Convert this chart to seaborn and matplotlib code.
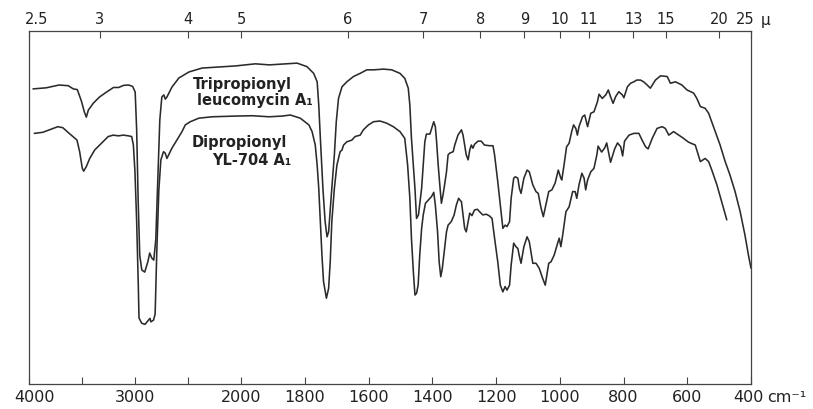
import numpy as np
import pandas as pd
import matplotlib
matplotlib.use("Agg")
import matplotlib.pyplot as plt
import matplotlib.transforms as mtransforms
import seaborn as sns

# IR spectra: wavenumber (cm-1) and transmittance (%)
upper_name = "Tripropionyl leucomycin A1"
lower_name = "Dipropionyl YL-704 A1"

upper_wn = [3962, 3839, 3716, 3630, 3583, 3545, 3507, 3479, 3460, 3441,
            3393, 3336, 3270, 3204, 3156, 3109, 3062, 3024, 3000, 2986,
            2972, 2957, 2938, 2910, 2881, 2863, 2844, 2825, 2806, 2787,
            2768, 2749, 2730, 2716, 2701, 2654, 2588, 2493, 2370, 2208,
            2057, 1956, 1912, 1862, 1825, 1794, 1773, 1762, 1757, 1752,
            1744, 1737, 1731, 1726, 1716, 1708, 1702, 1695, 1684, 1669,
            1648, 1627, 1606, 1585, 1554, 1528, 1502, 1487, 1476, 1471,
            1466, 1460, 1455, 1450, 1444, 1434, 1424, 1419, 1408, 1401,
            1396, 1391, 1387, 1382, 1377, 1372, 1367, 1362, 1356, 1351,
            1346, 1335, 1330, 1320, 1309, 1304, 1299, 1294, 1288, 1283,
            1278, 1273, 1268, 1257, 1247, 1237, 1221, 1210, 1205, 1195,
            1187, 1179, 1172, 1166, 1158, 1153, 1145, 1140, 1132, 1127,
            1122, 1113, 1103, 1096, 1085, 1075, 1068, 1059, 1052, 1044,
            1035, 1025, 1015, 1005, 997, 994, 987, 979, 971, 963,
            957, 950, 945, 940, 929, 922, 913, 908, 903, 893,
            882, 877, 867, 856, 848, 841, 833, 825, 815, 804,
            799, 788, 778, 768, 759, 747, 737, 726, 716, 700,
            684, 663, 653, 637, 617, 601, 580, 570, 559, 544,
            533, 512, 497, 481, 466, 450, 434, 419, 408, 400]
upper_t = [83.6, 83.9, 84.7, 84.5, 83.6, 83.4, 80.2, 77.1, 75.6, 77.6,
           79.6, 81.3, 82.7, 84.0, 84.0, 84.6, 84.7, 84.3, 82.7, 72.0,
           52.1, 36.5, 32.3, 31.7, 34.6, 37.1, 35.7, 35.1, 40.8, 57.8,
           74.8, 81.3, 81.9, 80.7, 81.3, 84.1, 86.7, 88.4, 89.5, 89.8,
           90.1, 90.7, 90.4, 90.7, 90.9, 89.9, 88.0, 85.6, 79.0, 69.7,
           55.5, 46.0, 41.7, 43.1, 55.5, 64.9, 74.3, 80.9, 84.2, 85.6,
           87.1, 88.0, 89.0, 89.0, 89.2, 89.0, 88.0, 86.6, 83.8, 79.0,
           69.6, 62.0, 55.4, 46.9, 47.9, 55.5, 68.6, 70.8, 70.8, 72.9,
           74.3, 72.9, 68.6, 62.0, 56.4, 51.2, 53.5, 56.4, 60.1, 64.9,
           65.4, 65.8, 67.7, 70.5, 72.0, 70.5, 67.7, 64.9, 63.5, 66.3,
           67.7, 66.8, 67.9, 68.8, 68.8, 67.7, 67.5, 67.5, 64.9, 57.3,
           50.7, 44.1, 45.0, 44.6, 46.0, 52.6, 58.3, 58.7, 58.3, 55.4,
           54.0, 58.3, 60.6, 60.1, 56.4, 54.5, 54.0, 49.8, 47.4, 50.7,
           54.5, 55.0, 56.9, 60.6, 58.3, 57.8, 62.0, 67.2, 68.2, 71.5,
           73.4, 72.4, 70.5, 72.9, 75.7, 76.2, 72.9, 74.8, 76.7, 77.1,
           80.0, 82.1, 80.9, 81.9, 83.3, 81.4, 79.5, 81.4, 82.8, 81.9,
           81.1, 84.2, 85.2, 85.6, 86.1, 86.1, 85.6, 84.7, 83.8, 86.1,
           87.3, 87.1, 85.2, 85.6, 84.7, 83.3, 82.4, 80.9, 78.6, 78.1,
           76.7, 71.5, 67.7, 63.0, 59.2, 54.5, 48.8, 42.2, 36.5, 32.8]

lower_wn = [3950, 3870, 3808, 3728, 3681, 3633, 3586, 3548, 3523, 3498,
            3485, 3460, 3428, 3381, 3318, 3254, 3207, 3159, 3112, 3064,
            3033, 3017, 3002, 2986, 2970, 2964, 2938, 2907, 2875, 2860,
            2853, 2827, 2812, 2796, 2777, 2758, 2733, 2717, 2701, 2685,
            2654, 2607, 2559, 2528, 2481, 2401, 2275, 2054, 1966, 1913,
            1872, 1846, 1815, 1788, 1778, 1768, 1762, 1757, 1752, 1747,
            1742, 1733, 1726, 1721, 1716, 1708, 1700, 1690, 1684, 1679,
            1669, 1653, 1643, 1627, 1617, 1601, 1585, 1565, 1544, 1523,
            1502, 1487, 1478, 1471, 1466, 1460, 1455, 1450, 1445, 1440,
            1434, 1429, 1422, 1413, 1403, 1396, 1391, 1384, 1379, 1374,
            1369, 1363, 1356, 1351, 1341, 1332, 1325, 1318, 1309, 1304,
            1299, 1294, 1288, 1283, 1276, 1268, 1259, 1252, 1242, 1231,
            1221, 1213, 1205, 1195, 1187, 1179, 1172, 1166, 1158, 1153,
            1145, 1138, 1132, 1127, 1122, 1113, 1103, 1096, 1085, 1075,
            1065, 1054, 1046, 1035, 1028, 1018, 1007, 1002, 997, 992,
            981, 971, 960, 952, 947, 940, 931, 924, 919, 913,
            903, 893, 884, 880, 869, 859, 853, 841, 828, 819,
            809, 803, 797, 783, 768, 752, 742, 731, 723, 710,
            695, 679, 669, 658, 643, 627, 612, 596, 575, 559,
            544, 533, 523, 507, 492, 476]
lower_t = [71.0, 71.3, 72.0, 72.9, 72.6, 71.3, 70.1, 69.1, 65.8, 61.1,
           60.3, 61.6, 63.9, 66.3, 68.2, 70.1, 70.5, 70.3, 70.5, 70.3,
           70.1, 67.7, 60.1, 46.0, 27.2, 18.7, 17.2, 16.9, 18.1, 18.6,
           17.6, 18.1, 19.8, 38.0, 55.0, 63.5, 65.8, 65.4, 63.9, 64.9,
           66.8, 69.1, 71.5, 73.4, 74.3, 75.3, 75.7, 75.9, 76.0, 75.7,
           75.9, 76.2, 75.3, 73.4, 71.5, 67.7, 62.0, 55.4, 46.0, 36.5,
           29.0, 24.3, 27.1, 34.6, 46.0, 55.4, 62.0, 65.8, 66.3, 67.7,
           68.6, 69.1, 70.1, 70.5, 72.0, 73.4, 74.3, 74.5, 73.9, 72.9,
           71.5, 69.6, 62.0, 52.6, 41.3, 31.8, 25.2, 25.7, 28.0, 36.5,
           44.1, 47.9, 51.2, 52.1, 53.1, 54.3, 50.7, 43.1, 34.6, 30.4,
           32.8, 37.5, 43.1, 45.0, 46.0, 47.9, 50.7, 52.6, 51.6, 47.9,
           44.1, 43.1, 46.0, 48.4, 47.7, 49.3, 49.5, 48.8, 47.9, 48.1,
           47.6, 46.9, 41.3, 34.6, 28.0, 26.1, 27.6, 26.6, 28.0, 33.7,
           39.9, 38.9, 38.4, 36.1, 34.2, 38.9, 41.7, 40.3, 34.2, 34.2,
           32.8, 29.9, 28.0, 34.2, 34.6, 36.5, 39.9, 41.3, 38.9, 41.7,
           48.8, 50.2, 54.5, 54.5, 52.6, 56.4, 59.7, 58.3, 55.0, 57.8,
           60.1, 61.1, 64.9, 67.4, 65.7, 66.9, 68.3, 62.8, 66.6, 68.3,
           67.2, 64.6, 68.8, 70.5, 71.0, 71.0, 69.1, 67.2, 66.6, 69.6,
           72.4, 72.9, 72.4, 70.5, 71.5, 70.5, 69.6, 68.5, 67.7, 63.0,
           63.9, 63.0, 60.6, 56.4, 51.6, 46.5]

wn_ticks = [4000, 3000, 2000, 1800, 1600, 1400, 1200, 1000, 800, 600, 400]
wn_minor = [3500, 2500]
micron_ticks = [2.5, 3, 4, 5, 6, 7, 8, 9, 10, 11, 13, 15, 20, 25]
micron_labels = ["2.5", "3", "4", "5", "6", "7", "8", "9", "10", "11",
                 "13", "15", "20", "25"]

df = pd.concat([
    pd.DataFrame({"wn": upper_wn, "T": upper_t, "compound": upper_name}),
    pd.DataFrame({"wn": lower_wn, "T": lower_t, "compound": lower_name}),
], ignore_index=True)


# grating-change scale: below 2000 cm-1 the chart is expanded threefold
def fwd(x):
    x = np.asarray(x, dtype=float)
    return np.where(x >= 2000, x, 2000 - (2000 - x) * 3.0)


def inv(u):
    u = np.asarray(u, dtype=float)
    return np.where(u >= 2000, u, 2000 - (2000 - u) / 3.0)


sns.set_style("white")
plt.rcParams["font.family"] = ["DejaVu Sans"]

W, H = 813, 409
fig = plt.figure(figsize=(W / 100, H / 100), dpi=100)
fig.patch.set_facecolor("white")
ax = fig.add_axes([29 / W, 25 / H, 722 / W, 353 / H])

ink = "#2b2b2b"
sns.lineplot(data=df, x="wn", y="T", hue="compound",
             palette={upper_name: ink, lower_name: ink},
             sort=False, estimator=None, legend=False, ax=ax, linewidth=1.15)

ax.set_xscale("function", functions=(fwd, inv))
ax.set_xlim(4000, 400)
ax.set_ylim(0, 100)
ax.set_xlabel("")
ax.set_ylabel("")
ax.set_yticks([])
ax.set_xticks(wn_ticks)
ax.set_xticklabels([str(v) for v in wn_ticks])
ax.set_xticks(wn_minor, minor=True)
ax.tick_params(axis="x", which="both", direction="in", length=5, width=0.8,
               color="#444444", labelsize=11.5, pad=4.5, labelcolor="#222222")
for s in ax.spines.values():
    s.set_color("#444444")
    s.set_linewidth(0.9)

# wavelength scale along the top
ax2 = ax.twiny()
ax2.set_xscale("function", functions=(fwd, inv))
ax2.set_xlim(4000, 400)
ax2.set_xticks([1e4 / m for m in micron_ticks])
ax2.set_xticklabels(micron_labels)
ax2.tick_params(axis="x", direction="in", length=5, width=0.8, color="#444444",
                labelsize=10.5, pad=3, labelcolor="#222222")
for s in ax2.spines.values():
    s.set_visible(False)


def shift(label, dx):
    label.set_transform(label.get_transform() +
                        mtransforms.ScaledTranslation(dx / 100, 0, fig.dpi_scale_trans))


shift(ax2.get_xticklabels()[0], 8)
shift(ax2.get_xticklabels()[-1], -6)
shift(ax.get_xticklabels()[0], 6)
shift(ax.get_xticklabels()[-1], -3)

fig.text(767 / W, 1 - 398 / H, "cm\u207b\u00b9", fontsize=11.5, va="center",
         ha="left", color="#222222")
fig.text(761 / W, 1 - 20 / H, "\u03bc", fontsize=11, va="center", ha="left",
         color="#222222")

# compound names beside the curves
def axfrac(px, py):
    return (px - 29) / 722, (384 - py) / 353


label_kw = dict(transform=ax.transAxes, fontsize=10.5, fontweight="bold",
                color="#222222", va="center", ha="left")
ax.text(*axfrac(193, 85), "Tripropionyl", **label_kw)
ax.text(*axfrac(197, 101), "leucomycin A\u2081", **label_kw)
ax.text(*axfrac(192, 142), "Dipropionyl", **label_kw)
ax.text(*axfrac(212, 161), "YL-704 A\u2081", **label_kw)

fig.savefig("out.png", dpi=100, facecolor="white")
